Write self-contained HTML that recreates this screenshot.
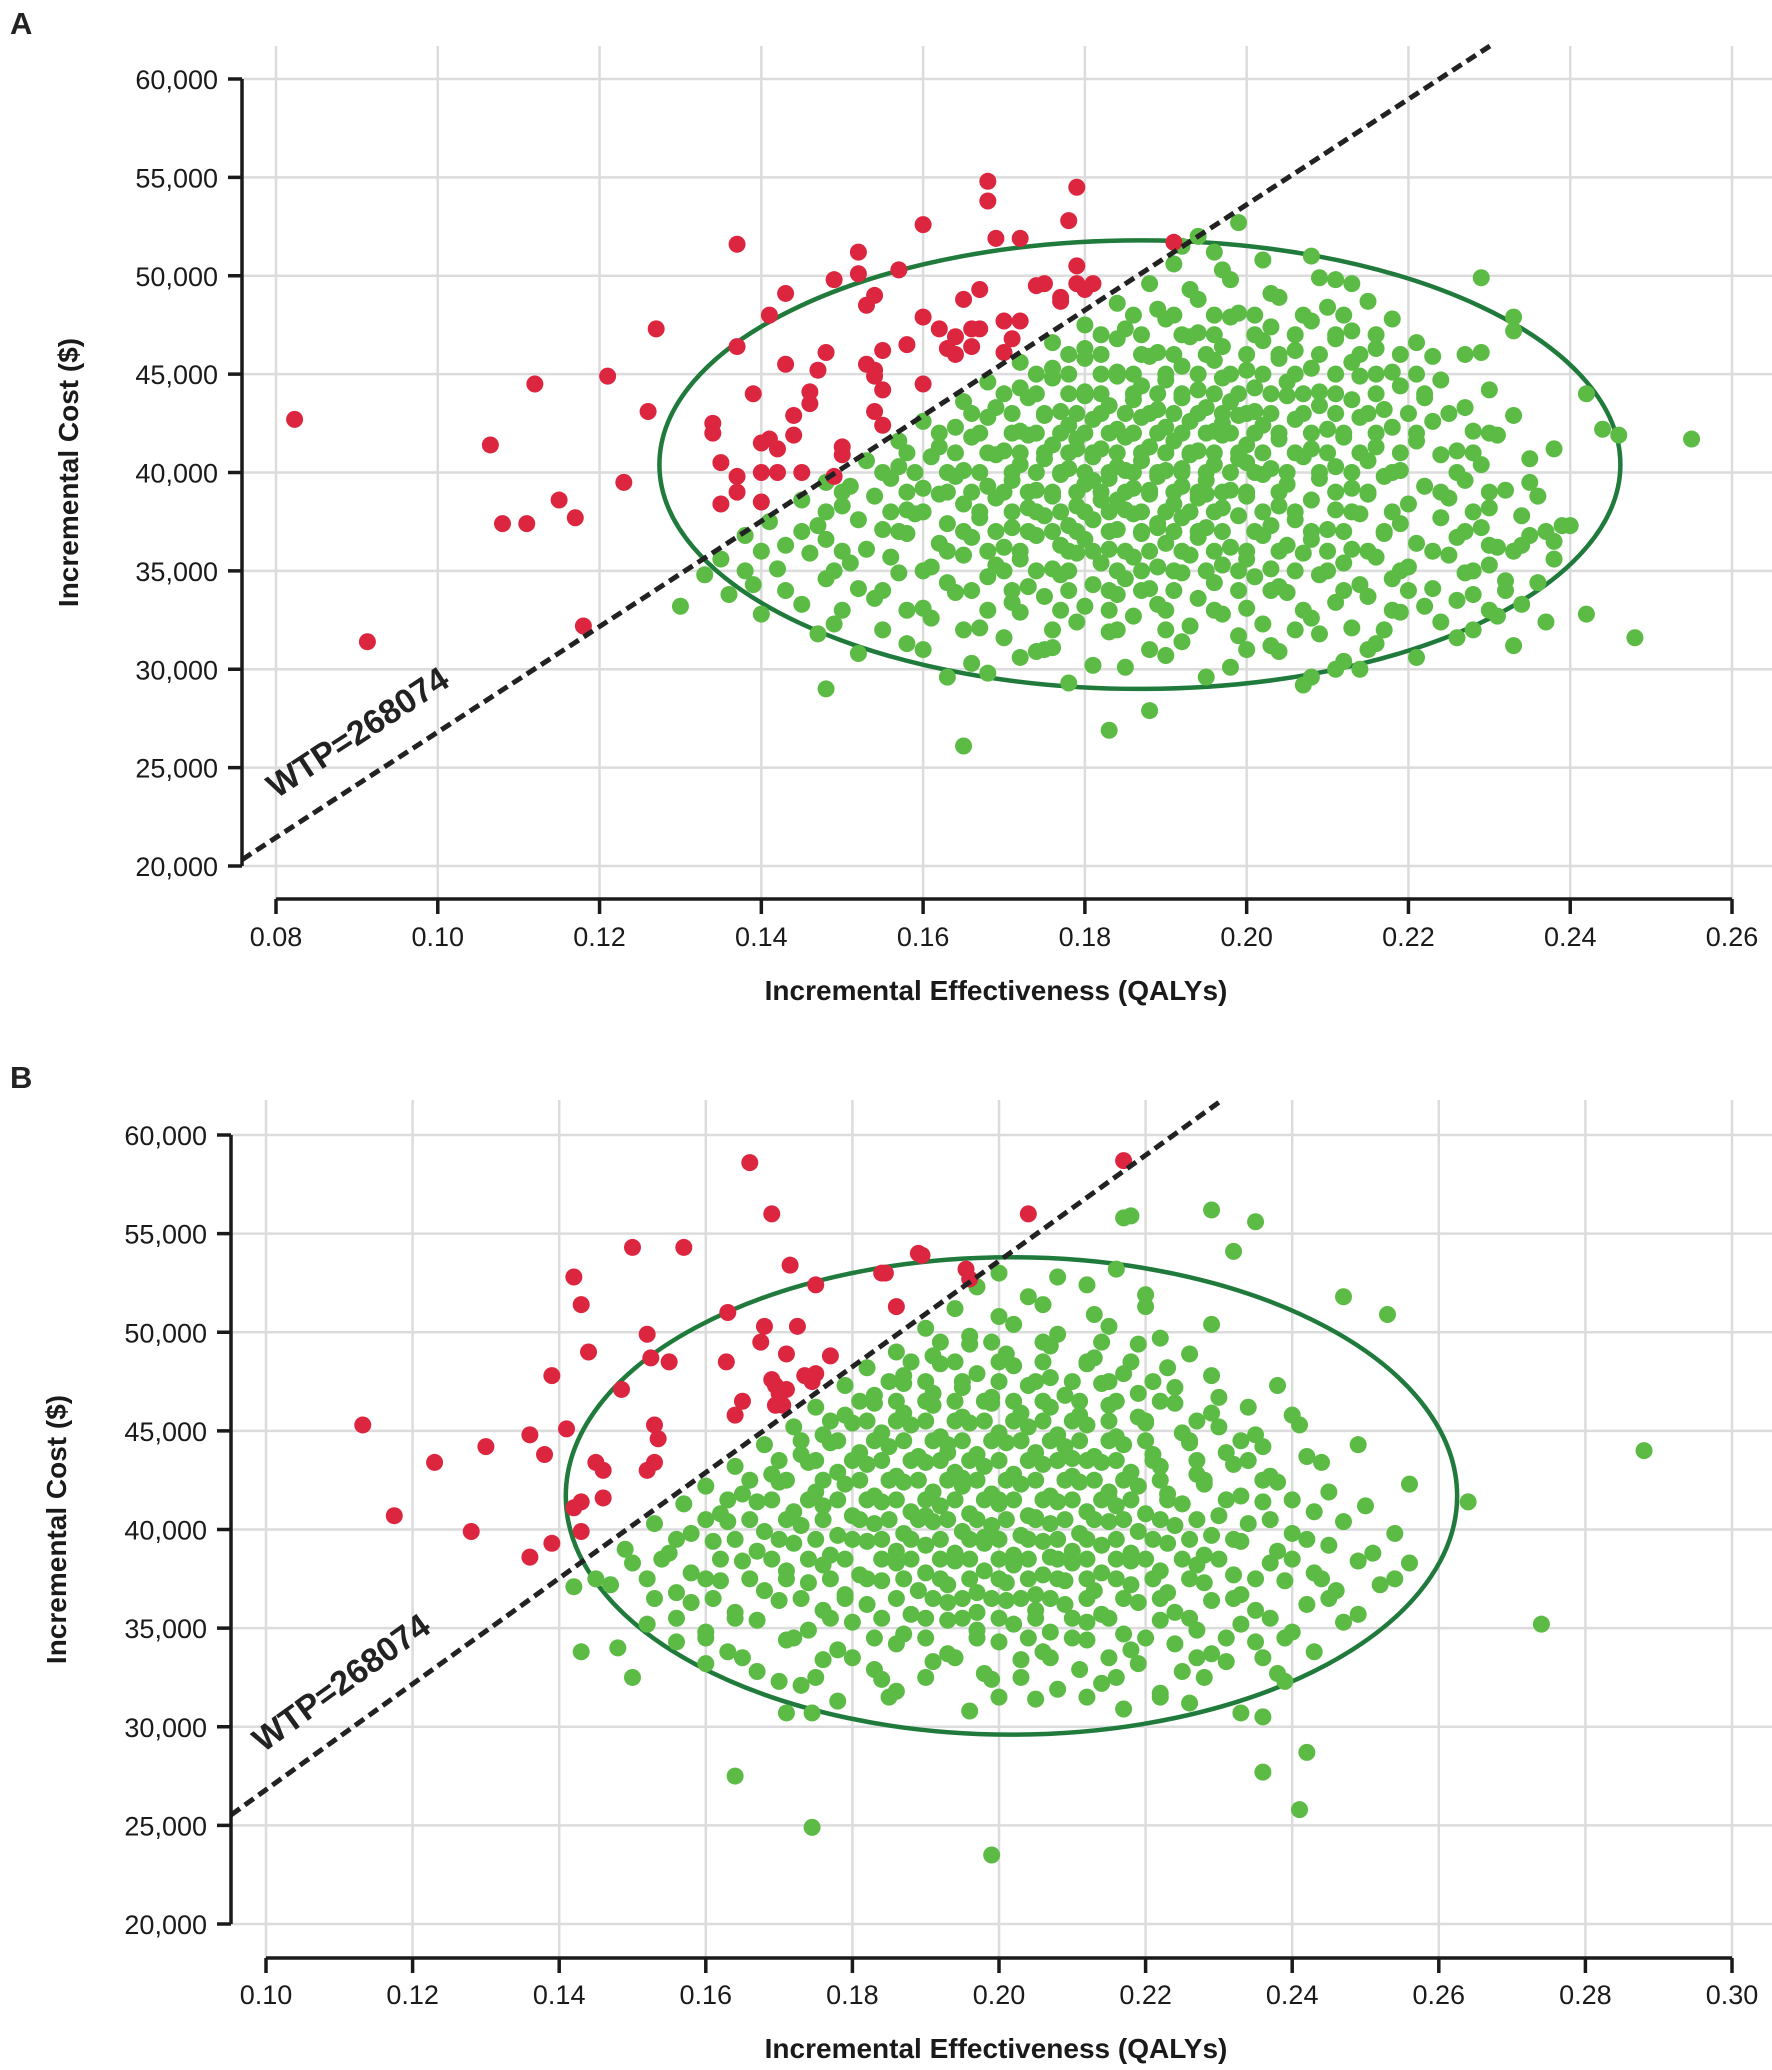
<!DOCTYPE html>
<html><head><meta charset="utf-8"><title>Cost-effectiveness planes</title>
<style>
html,body{margin:0;padding:0;background:#fff;}
svg{display:block;font-family:"Liberation Sans",Arial,sans-serif;}
.tick{font-size:27px;fill:#1a1a1a;}
.ttl{font-family:"Liberation Sans Narrow","Liberation Sans",sans-serif;font-weight:bold;font-size:28px;fill:#1a1a1a;}
</style></head>
<body>
<svg id="chart" width="1772" height="2070" viewBox="0 0 1772 2070" xmlns="http://www.w3.org/2000/svg"></svg>
<script>
// ---------- data ----------
const xTicksA = [0.08,0.10,0.12,0.14,0.16,0.18,0.20,0.22,0.24,0.26];
const xTicksB = [0.10,0.12,0.14,0.16,0.18,0.20,0.22,0.24,0.26,0.28,0.30];
const yTicks = [20000,25000,30000,35000,40000,45000,50000,55000,60000];
const wtp = 268074;
const ellipseA = [0.1868, 40.4, 0.0594, 11.4];
const ellipseB = [0.2017, 41.7, 0.0608, 12.1];
// cost values in thousands
const redA = [[.0823,42.7],[.0913,31.4],[.1065,41.4],[.108,37.4],[.111,37.4],[.112,44.5],[.115,38.6],[.117,37.7],[.118,32.2],[.121,44.9],[.123,39.5],[.126,43.1],[.127,47.3],[.134,42.5],[.134,42.0],[.135,40.5],[.135,38.4],[.137,39.8],[.137,39.0],[.137,51.6],[.137,46.4],[.139,44.0],[.141,48.0],[.140,41.5],[.141,41.7],[.142,41.2],[.140,40.0],[.142,40.0],[.140,38.5],[.143,49.1],[.143,45.5],[.144,42.9],[.144,41.9],[.145,40.0],[.146,44.1],[.146,43.5],[.148,46.1],[.147,45.2],[.149,39.8],[.150,40.9],[.150,41.3],[.149,49.8],[.152,51.2],[.152,50.1],[.153,48.5],[.154,49.0],[.153,45.5],[.154,44.9],[.155,44.2],[.154,43.1],[.155,42.4],[.155,46.2],[.154,45.2],[.157,50.3],[.158,46.5],[.160,52.6],[.160,47.9],[.160,44.5],[.162,47.3],[.163,46.3],[.164,46.9],[.164,46.0],[.165,48.8],[.166,47.3],[.166,46.4],[.167,47.3],[.168,54.8],[.168,53.8],[.169,51.9],[.170,47.7],[.171,46.8],[.167,49.3],[.172,51.9],[.170,46.1],[.172,47.7],[.174,49.5],[.175,49.6],[.178,52.8],[.179,50.5],[.179,49.6],[.179,54.5],[.180,49.3],[.181,49.6],[.177,48.9],[.177,48.7],[.191,51.7]];
const greenA = [[.255,41.7],[.248,31.6],[.242,32.8],[.240,37.3],[.238,36.5],[.237,32.4],[.242,44.0],[.244,42.2],[.246,41.9],[.238,41.2],[.229,49.9],[.233,47.9],[.233,47.2],[.227,46.0],[.165,26.1],[.183,26.9],[.188,27.9],[.148,29.0],[.130,33.2],[.199,52.7],[.194,52.0],[.208,51.0],[.211,49.8],[.213,49.6],[.163,29.6],[.172,30.6],[.208,29.6],[.211,30.0],[.234,36.3],[.235,39.5],[.230,36.3],[.232,34.5],[.226,33.5],
[.168,29.8],[.178,29.3],[.185,30.1],[.195,29.6],[.207,29.2],[.214,30.0],
[.152,30.8],[.166,30.3],[.174,30.9],[.181,30.2],[.190,30.7],[.198,30.1],[.204,30.9],[.212,30.4],[.221,30.6],
[.147,31.8],[.158,31.3],[.170,31.6],[.176,31.1],[.183,31.9],[.192,31.4],[.199,31.7],[.203,31.2],[.209,31.8],[.216,31.3],[.226,31.6],[.233,31.2],
[.140,32.8],[.149,32.3],[.161,32.6],[.167,32.1],[.172,32.9],[.179,32.4],[.186,32.7],[.193,32.2],[.197,32.8],[.202,32.3],[.208,32.6],[.213,32.1],[.219,32.9],[.224,32.4],[.231,32.7],
[.136,33.8],[.145,33.3],[.154,33.6],[.160,33.1],[.164,33.9],[.171,33.4],[.175,33.7],[.180,33.2],[.184,33.8],[.189,33.3],[.194,33.6],[.200,33.1],[.205,33.9],[.211,33.4],[.215,33.7],[.222,33.2],[.228,33.8],[.234,33.3],
[.133,34.8],[.139,34.3],[.148,34.6],[.152,34.1],[.157,34.9],[.163,34.4],[.168,34.7],[.173,34.2],[.177,34.8],[.181,34.3],[.185,34.6],[.188,34.1],[.192,34.9],[.196,34.4],[.201,34.7],[.204,34.2],[.209,34.8],[.214,34.3],[.218,34.6],[.223,34.1],[.227,34.9],[.236,34.4],
[.135,35.6],[.142,35.1],[.146,35.9],[.151,35.4],[.156,35.7],[.161,35.2],[.165,35.8],[.169,35.3],[.172,35.6],[.176,35.1],[.179,35.9],[.182,35.4],[.186,35.7],[.189,35.2],[.193,35.8],[.197,35.3],[.200,35.6],[.203,35.1],[.207,35.9],[.212,35.4],[.216,35.7],[.220,35.2],[.225,35.8],[.230,35.3],[.238,35.6],
[.138,36.8],[.143,36.3],[.148,36.6],[.153,36.1],[.158,36.9],[.162,36.4],[.166,36.7],[.170,36.2],[.174,36.8],[.177,36.3],[.180,36.6],[.183,36.1],[.187,36.9],[.190,36.4],[.194,36.7],[.198,36.2],[.202,36.8],[.205,36.3],[.208,36.6],[.213,36.1],[.217,36.9],[.221,36.4],[.226,36.7],[.231,36.2],[.235,36.8],
[.141,37.5],[.147,37.3],[.152,37.6],[.155,37.1],[.159,37.9],[.163,37.4],[.167,37.7],[.171,37.2],[.175,37.8],[.178,37.3],[.181,37.6],[.184,37.1],[.186,37.9],[.189,37.4],[.192,37.7],[.195,37.2],[.199,37.8],[.203,37.3],[.206,37.6],[.210,37.1],[.214,37.9],[.219,37.4],[.224,37.7],[.229,37.2],[.234,37.8],[.239,37.3],
[.145,38.6],[.150,38.3],[.154,38.8],[.158,38.1],[.162,38.9],[.165,38.4],[.169,38.7],[.173,38.2],[.176,38.8],[.179,38.3],[.182,38.6],[.185,38.1],[.188,38.9],[.191,38.4],[.194,38.7],[.197,38.2],[.200,38.8],[.204,38.3],[.208,38.6],[.211,38.1],[.215,38.9],[.220,38.4],[.225,38.7],[.230,38.2],[.236,38.8],
[.148,39.5],[.151,39.3],[.156,39.7],[.160,39.2],[.164,39.8],[.168,39.3],[.171,39.6],[.174,39.1],[.177,39.9],[.180,39.4],[.183,39.7],[.186,39.2],[.189,39.8],[.192,39.3],[.195,39.6],[.198,39.1],[.202,39.9],[.205,39.4],[.209,39.7],[.213,39.2],[.217,39.8],[.222,39.3],[.227,39.6],[.232,39.1],
[.153,40.6],[.157,40.3],[.161,40.8],[.165,40.1],[.169,40.9],[.172,40.4],[.175,40.7],[.178,40.2],[.181,40.8],[.184,40.3],[.187,40.6],[.190,40.1],[.193,40.9],[.196,40.4],[.199,40.7],[.203,40.2],[.207,40.8],[.211,40.3],[.215,40.6],[.219,40.1],[.224,40.9],[.229,40.4],[.235,40.7],
[.157,41.6],[.162,41.3],[.166,41.8],[.170,41.1],[.173,41.9],[.176,41.4],[.179,41.7],[.182,41.2],[.185,41.8],[.188,41.3],[.191,41.6],[.194,41.1],[.197,41.9],[.200,41.4],[.204,41.7],[.208,41.2],[.212,41.8],[.216,41.3],[.221,41.6],[.226,41.1],[.231,41.9],
[.160,42.6],[.164,42.3],[.168,42.8],[.172,42.1],[.175,42.9],[.178,42.4],[.181,42.7],[.184,42.2],[.187,42.8],[.190,42.3],[.193,42.6],[.196,42.1],[.199,42.9],[.202,42.4],[.206,42.7],[.210,42.2],[.214,42.8],[.218,42.3],[.223,42.6],[.228,42.1],[.233,42.9],
[.165,43.6],[.169,43.3],[.173,43.8],[.177,43.1],[.180,43.9],[.183,43.4],[.186,43.7],[.189,43.2],[.192,43.8],[.195,43.3],[.198,43.6],[.201,43.1],[.205,43.9],[.209,43.4],[.213,43.7],[.217,43.2],[.222,43.8],[.227,43.3],
[.168,44.6],[.172,44.3],[.176,44.8],[.180,44.1],[.184,44.9],[.187,44.4],[.190,44.7],[.194,44.2],[.197,44.8],[.201,44.3],[.205,44.6],[.209,44.1],[.214,44.9],[.219,44.4],[.224,44.7],[.230,44.2],
[.172,45.6],[.176,45.3],[.180,45.8],[.184,45.1],[.188,45.9],[.192,45.4],[.196,45.7],[.200,45.2],[.204,45.8],[.208,45.3],[.213,45.6],[.218,45.1],[.223,45.9],
[.176,46.6],[.180,46.3],[.184,46.8],[.189,46.1],[.193,46.9],[.197,46.4],[.202,46.7],[.206,46.2],[.211,46.8],[.216,46.3],[.221,46.6],[.229,46.1],
[.180,47.5],[.185,47.3],[.190,47.8],[.194,47.1],[.198,47.9],[.203,47.4],[.208,47.7],[.213,47.2],[.218,47.8],
[.184,48.6],[.189,48.3],[.194,48.8],[.199,48.1],[.204,48.9],[.210,48.4],[.215,48.7],
[.188,49.6],[.193,49.3],[.198,49.8],[.203,49.1],[.209,49.9],
[.191,50.6],[.197,50.3],[.202,50.8],[.192,51.5],[.196,51.2],
[.185,40.1],[.188,39.1],[.190,41.0],[.184,38.6],[.192,40.2],[.186,42.0],[.181,39.6],[.195,38.9],[.189,37.2],[.200,40.5],[.179,41.2],[.197,42.5]];
// extra dense-core points, grouped by cost row: [cost, [effectiveness...]]
const coreRowsA = [
[31.0,[.160,.175,.188,.200,.215]],
[32.0,[.155,.165,.176,.184,.190,.206,.217,.228]],
[33.0,[.150,.158,.168,.177,.183,.190,.196,.207,.218,.230]],
[34.0,[.143,.155,.166,.171,.178,.183,.187,.191,.199,.203,.212,.220,.232]],
[35.0,[.138,.149,.160,.170,.174,.178,.184,.187,.191,.195,.199,.206,.210,.219,.228]],
[36.0,[.140,.150,.163,.168,.172,.178,.181,.185,.188,.192,.196,.200,.204,.210,.215,.223,.233]],
[37.0,[.145,.157,.165,.169,.173,.176,.179,.183,.187,.191,.194,.197,.201,.208,.212,.217,.227,.237]],
[38.0,[.148,.156,.160,.167,.171,.174,.177,.180,.183,.187,.190,.193,.196,.202,.206,.213,.218,.228]],
[39.0,[.150,.158,.163,.166,.170,.173,.176,.179,.182,.185,.188,.191,.194,.197,.200,.204,.211,.215,.224,.230]],
[40.0,[.155,.159,.163,.167,.171,.174,.177,.180,.183,.186,.189,.192,.195,.198,.201,.205,.209,.213,.218,.226]],
[41.0,[.158,.164,.168,.172,.175,.178,.181,.184,.187,.190,.193,.196,.199,.202,.206,.210,.214,.219,.228]],
[42.0,[.162,.167,.171,.174,.177,.180,.183,.186,.189,.192,.195,.198,.201,.204,.208,.212,.216,.221,.230]],
[43.0,[.166,.171,.175,.179,.182,.185,.188,.191,.194,.197,.200,.203,.207,.211,.215,.220,.225]],
[44.0,[.170,.174,.178,.182,.186,.189,.192,.196,.199,.203,.207,.211,.216,.222]],
[45.0,[.174,.178,.182,.186,.190,.194,.198,.202,.206,.211,.216,.221]],
[46.0,[.178,.182,.187,.191,.195,.200,.204,.209,.214,.219]],
[47.0,[.182,.187,.192,.196,.201,.206,.211,.216]],
[48.0,[.186,.191,.196,.201,.207,.212]]];
const redB = [[.1132,45.3],[.1175,40.7],[.123,43.4],[.128,39.9],[.130,44.2],[.136,38.6],[.136,44.8],[.138,43.8],[.139,47.8],[.139,39.3],[.141,45.1],[.142,52.8],[.143,51.4],[.144,49.0],[.142,41.1],[.143,39.9],[.143,41.4],[.145,43.4],[.146,41.6],[.146,43.0],[.1485,47.1],[.150,54.3],[.152,49.9],[.1525,48.7],[.152,43.0],[.153,43.4],[.153,45.3],[.1535,44.6],[.155,48.5],[.157,54.3],[.1628,48.5],[.163,51.0],[.164,45.8],[.165,46.5],[.166,58.6],[.1675,49.5],[.168,50.3],[.169,56.0],[.169,47.6],[.1695,46.3],[.1705,46.3],[.171,47.1],[.1695,47.3],[.170,46.9],[.171,48.9],[.1715,53.4],[.1725,50.3],[.1735,47.8],[.1745,47.5],[.175,47.9],[.175,52.4],[.177,48.8],[.184,53.0],[.1845,53.0],[.186,51.3],[.189,54.0],[.1895,53.9],[.1955,53.2],[.196,52.7],[.204,56.0],[.217,58.7]];
const greenB = [[.288,44.0],[.274,35.2],[.264,41.4],[.199,23.5],[.1745,24.9],[.164,27.5],[.241,25.8],[.242,28.7],[.236,27.7],[.236,30.5],[.229,56.2],[.235,55.6],[.217,55.8],[.218,55.9],[.232,54.1],[.253,50.9],[.247,51.8],[.256,42.3],[.256,38.3],[.254,37.5],[.254,39.8],[.143,33.8],[.150,32.5],[.148,34.0],[.142,37.1],[.145,37.5],[.171,30.7],[.173,32.1],[.1745,30.7],[.184,32.4],
[.178,31.3],[.196,30.8],[.205,31.4],[.217,30.9],[.226,31.2],[.233,30.7],
[.170,32.3],[.186,31.8],[.199,32.4],[.208,31.9],[.214,32.2],[.222,31.7],[.239,32.3],
[.160,33.2],[.167,32.8],[.176,33.4],[.183,32.9],[.191,33.3],[.198,32.7],[.203,33.4],[.211,32.9],[.219,33.2],[.225,32.8],[.231,33.3],[.238,32.7],
[.156,34.3],[.163,33.8],[.171,34.4],[.178,33.9],[.186,34.2],[.193,33.7],[.200,34.3],[.206,33.8],[.212,34.4],[.218,33.9],[.224,34.2],[.229,33.7],[.235,34.3],[.243,33.8],
[.152,35.2],[.160,34.8],[.167,35.4],[.174,34.9],[.180,35.3],[.187,34.7],[.193,35.4],[.197,34.9],[.202,35.2],[.207,34.8],[.212,35.3],[.217,34.7],[.222,35.4],[.227,34.9],[.233,35.2],[.240,34.8],[.247,35.3],
[.158,36.3],[.164,35.8],[.170,36.4],[.176,35.9],[.182,36.2],[.188,35.7],[.193,36.3],[.197,35.8],[.201,36.4],[.205,35.9],[.209,36.2],[.214,35.7],[.219,36.3],[.224,35.8],[.229,36.4],[.235,35.9],[.242,36.2],[.249,35.7],
[.147,37.2],[.156,36.8],[.162,37.4],[.168,36.9],[.174,37.3],[.179,36.7],[.184,37.4],[.189,36.9],[.193,37.2],[.197,36.8],[.201,37.3],[.205,36.7],[.209,37.4],[.213,36.9],[.218,37.2],[.223,36.8],[.228,37.3],[.233,36.7],[.239,37.4],[.246,36.9],[.252,37.2],
[.150,38.3],[.158,37.8],[.165,38.4],[.171,37.9],[.176,38.2],[.181,37.7],[.186,38.3],[.190,37.8],[.194,38.4],[.198,37.9],[.202,38.2],[.206,37.7],[.210,38.3],[.214,37.8],[.218,38.4],[.222,37.9],[.227,38.2],[.232,37.7],[.237,38.3],[.243,37.8],[.249,38.4],
[.149,39.0],[.155,38.8],[.161,39.4],[.167,38.9],[.172,39.3],[.177,38.7],[.182,39.4],[.186,38.9],[.190,39.2],[.194,38.8],[.198,39.3],[.202,38.7],[.206,39.4],[.210,38.9],[.214,39.2],[.218,38.8],[.223,39.3],[.228,38.7],[.233,39.4],[.238,38.9],[.245,39.2],[.251,38.8],
[.153,40.3],[.158,39.8],[.163,40.4],[.168,39.9],[.173,40.2],[.178,39.7],[.183,40.3],[.187,39.8],[.191,40.4],[.195,39.9],[.199,40.2],[.203,39.7],[.207,40.3],[.211,39.8],[.215,40.4],[.219,39.9],[.224,40.2],[.229,39.7],[.234,40.3],[.240,39.8],[.247,40.4],
[.157,41.3],[.162,40.8],[.167,41.4],[.172,40.9],[.176,41.2],[.180,40.7],[.184,41.4],[.188,40.9],[.192,41.2],[.196,40.8],[.200,41.3],[.204,40.7],[.208,41.4],[.212,40.9],[.216,41.2],[.220,40.8],[.225,41.3],[.230,40.7],[.236,41.4],[.243,40.9],[.250,41.2],
[.160,42.2],[.165,41.8],[.170,42.4],[.175,41.9],[.179,42.3],[.183,41.7],[.187,42.4],[.191,41.9],[.195,42.2],[.199,41.8],[.203,42.3],[.207,41.7],[.211,42.4],[.215,41.9],[.219,42.2],[.223,41.8],[.228,42.3],[.233,41.7],[.238,42.4],[.245,41.9],
[.164,43.2],[.169,42.8],[.174,43.4],[.178,42.9],[.182,43.3],[.186,42.7],[.190,43.4],[.194,42.9],[.198,43.2],[.202,42.8],[.206,43.3],[.210,42.7],[.214,43.4],[.218,42.9],[.222,43.2],[.227,42.8],[.232,43.3],[.237,42.7],[.244,43.4],
[.168,44.3],[.173,43.8],[.177,44.4],[.181,43.9],[.185,44.2],[.189,43.7],[.193,44.3],[.197,43.8],[.201,44.4],[.205,43.9],[.209,44.2],[.213,43.7],[.217,44.3],[.221,43.8],[.226,44.4],[.231,43.9],[.236,44.2],[.242,43.7],[.249,44.3],
[.172,45.2],[.176,44.8],[.180,45.4],[.184,44.9],[.188,45.3],[.192,44.7],[.196,45.4],[.200,44.9],[.204,45.2],[.208,44.8],[.212,45.3],[.216,44.7],[.220,45.4],[.225,44.9],[.230,45.2],[.235,44.8],[.241,45.3],
[.175,46.2],[.179,45.8],[.183,46.4],[.187,45.9],[.191,46.3],[.195,45.7],[.199,46.4],[.203,45.9],[.207,46.2],[.211,45.8],[.215,46.3],[.219,45.7],[.224,46.4],[.229,45.9],[.234,46.2],[.240,45.8],
[.179,47.3],[.183,46.8],[.187,47.4],[.191,46.9],[.195,47.2],[.199,46.7],[.204,47.3],[.209,46.8],[.214,47.4],[.219,46.9],[.224,47.2],[.230,46.7],[.238,47.3],
[.182,48.2],[.187,47.8],[.192,48.4],[.197,47.9],[.202,48.3],[.207,47.7],[.212,48.4],[.217,47.9],[.223,48.2],[.229,47.8],
[.186,49.0],[.191,48.8],[.196,49.4],[.201,48.9],[.207,49.3],[.213,48.7],[.219,49.4],[.226,48.9],
[.190,50.2],[.196,49.8],[.202,50.4],[.208,49.9],[.215,50.3],[.222,49.7],[.229,50.4],
[.194,51.2],[.200,50.8],[.206,51.4],[.213,50.9],[.220,51.3],
[.197,52.3],[.204,51.8],[.212,52.4],[.220,51.9],[.200,53.0],[.208,52.8],[.216,53.2],
[.200,41.5],[.205,40.6],[.195,42.6],[.210,43.6],[.198,39.6],[.203,44.5],[.190,40.7],[.215,41.6],[.207,38.6],[.193,43.9]];
const coreRowsB = [
[31.5,[.185,.200,.212,.222]],
[32.5,[.175,.190,.203,.216,.228]],
[33.5,[.165,.180,.194,.207,.215,.227,.236]],
[34.5,[.160,.172,.183,.190,.197,.204,.210,.220,.231,.239]],
[35.5,[.156,.164,.177,.184,.190,.195,.200,.205,.210,.215,.226,.237]],
[36.5,[.153,.161,.173,.179,.186,.191,.195,.199,.203,.207,.212,.217,.222,.232,.245]],
[37.5,[.152,.160,.166,.171,.177,.182,.187,.192,.196,.200,.204,.208,.212,.216,.221,.226,.235,.244]],
[38.5,[.154,.162,.169,.174,.179,.184,.188,.192,.196,.200,.204,.208,.212,.216,.220,.225,.230,.240]],
[39.5,[.156,.164,.170,.175,.180,.184,.188,.192,.196,.200,.204,.208,.212,.216,.221,.226,.232,.242]],
[40.5,[.160,.166,.171,.176,.181,.185,.189,.193,.197,.201,.205,.209,.213,.217,.222,.227,.237]],
[41.5,[.163,.169,.174,.178,.182,.186,.190,.194,.198,.202,.206,.210,.214,.218,.223,.231,.240]],
[42.5,[.166,.171,.176,.181,.185,.189,.193,.197,.201,.205,.209,.213,.217,.222,.228,.236]],
[43.5,[.170,.175,.180,.184,.188,.192,.196,.200,.204,.208,.212,.216,.221,.227,.234]],
[44.5,[.173,.178,.183,.187,.191,.195,.199,.203,.207,.211,.215,.220,.226,.233]],
[45.5,[.177,.182,.186,.190,.194,.198,.202,.206,.210,.215,.220,.227]],
[46.5,[.181,.186,.190,.194,.198,.202,.206,.211,.216,.222]],
[47.5,[.185,.190,.195,.200,.205,.210,.215,.221]],
[48.5,[.188,.194,.200,.206,.212,.218]],
[49.5,[.192,.199,.206,.214]]];

// ---------- drawing ----------
const NS = "http://www.w3.org/2000/svg";
const svg = document.getElementById('chart');
function mk(tag, attrs, parent) {
  const e = document.createElementNS(NS, tag);
  for (const k in attrs) e.setAttribute(k, attrs[k]);
  (parent || svg).appendChild(e);
  return e;
}
const panels = [
  {id:'a', label:'A', labelY:34, xTicks:xTicksA, x0:0.08, x1:0.26, px0:276, px1:1732, yAxisX:242, py20:866, py60:79, xAxisY:899, gridTop:46, tickLabelY:946, xTitleY:1000, yTitleX:69, red:redA, green:greenA, core:coreRowsA, ell:ellipseA, wtpLabel:[364,742,-33.1]},
  {id:'b', label:'B', labelY:1088, xTicks:xTicksB, x0:0.10, x1:0.30, px0:266, px1:1732, yAxisX:231, py20:1924, py60:1135, xAxisY:1958, gridTop:1100, tickLabelY:2004, xTitleY:2058, yTitleX:57, red:redB, green:greenB, core:coreRowsB, ell:ellipseB, wtpLabel:[348,1692,-35.8]}
];
panels.forEach(p => {
  const g = mk('g', {});
  
  
  const xs = v => p.px0 + (v - p.x0) / (p.x1 - p.x0) * (p.px1 - p.px0);
  const ys = c => p.py20 - (c - 20) / 40 * (p.py20 - p.py60);
  const pl = mk('text', {x:10, y:p.labelY, 'font-size':31, 'font-weight':'bold', fill:'#222'}, g);
  pl.textContent = p.label;
  
  
  const grid = mk('g', {stroke:'#dcdcdc', 'stroke-width':2.5}, g);
  
  
  p.xTicks.forEach(t => mk('line', {x1:xs(t), x2:xs(t), y1:p.gridTop, y2:p.xAxisY}, grid));
  yTicks.forEach(t => mk('line', {x1:p.yAxisX, x2:1772, y1:ys(t/1000), y2:ys(t/1000)}, grid));
  const el = mk('ellipse', {cx:xs(p.ell[0]), cy:ys(p.ell[1]), rx:xs(p.ell[0]+p.ell[2])-xs(p.ell[0]), ry:ys(p.ell[1]-p.ell[3])-ys(p.ell[1]), fill:'none', stroke:'#1f7a3b', 'stroke-width':4.5}, g);
  
  
  const gp = mk('g', {fill:'#5cbb45'}, g);
  
  
  p.green.forEach(d => {
    const c = mk('circle', {cx:xs(d[0]), cy:ys(d[1]), r:8.5}, gp);
    
    
  });
  p.core.forEach(row => {
    row[1].forEach(e => {
      const c = mk('circle', {cx:xs(e), cy:ys(row[0]), r:8.5}, gp);
      
      
    });
  });
  const rp = mk('g', {fill:'#dc2640'}, g);
  
  
  p.red.forEach(d => {
    const c = mk('circle', {cx:xs(d[0]), cy:ys(d[1]), r:8.5}, rp);
    
    
  });
  const eStart = p.x0 - (xs(p.x0) - p.yAxisX) / (p.px1 - p.px0) * (p.x1 - p.x0);
  const cTop = 20 + (p.py20 - p.gridTop) / (p.py20 - p.py60) * 40;
  const eEnd = cTop / (wtp / 1000);
  const wl = mk('line', {x1:xs(eStart), y1:ys(eStart*wtp/1000), x2:xs(eEnd), y2:ys(eEnd*wtp/1000), stroke:'#222', 'stroke-width':5, 'stroke-dasharray':'11,6'}, g);
  
  
  const wt = mk('text', {x:p.wtpLabel[0], y:p.wtpLabel[1], transform:`rotate(${p.wtpLabel[2]} ${p.wtpLabel[0]} ${p.wtpLabel[1]})`, 'text-anchor':'middle', 'font-size':34, 'font-weight':'bold', fill:'#222', 'font-family':'"Liberation Sans Narrow","Liberation Sans",sans-serif'}, g);
  wt.textContent = 'WTP=268074';
  
  
  const ax = mk('g', {stroke:'#1a1a1a', 'stroke-width':3.5, fill:'none'}, g);
  
  
  mk('line', {x1:p.yAxisX, x2:p.yAxisX, y1:ys(20), y2:ys(60)}, ax);
  mk('line', {x1:xs(p.x0), x2:xs(p.x1), y1:p.xAxisY, y2:p.xAxisY}, ax);
  yTicks.forEach(t => {
    mk('line', {x1:p.yAxisX-14, x2:p.yAxisX, y1:ys(t/1000), y2:ys(t/1000)}, ax);
    const tx = mk('text', {x:p.yAxisX-24, y:ys(t/1000)+10, 'text-anchor':'end', class:'tick'}, g);
    tx.textContent = t.toLocaleString('en-US');
    
    
  });
  p.xTicks.forEach(t => {
    mk('line', {x1:xs(t), x2:xs(t), y1:p.xAxisY, y2:p.xAxisY+15}, ax);
    const tx = mk('text', {x:xs(t), y:p.tickLabelY, 'text-anchor':'middle', class:'tick'}, g);
    tx.textContent = t.toFixed(2);
    
    
  });
  const xt = mk('text', {x:996, y:p.xTitleY, 'text-anchor':'middle', class:'ttl'}, g);
  xt.textContent = 'Incremental Effectiveness (QALYs)';
  
  
  const cy = (ys(20) + ys(60)) / 2;
  const yt = mk('text', {x:p.yTitleX, y:cy, 'text-anchor':'middle', class:'ttl', transform:`rotate(-90 ${p.yTitleX} ${cy})`, dy:9}, g);
  yt.textContent = 'Incremental Cost ($)';
  
  
});
</script>
</body></html>
